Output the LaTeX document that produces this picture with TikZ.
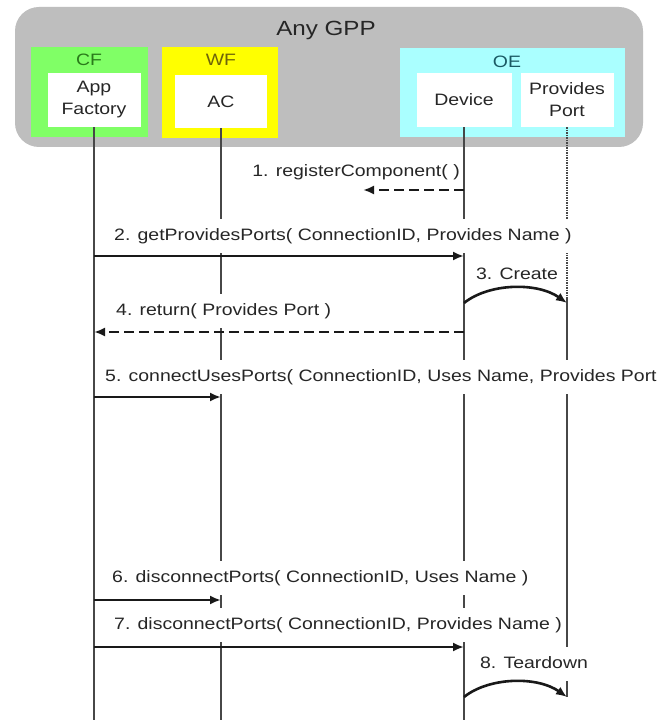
\documentclass[tikz,border=0pt]{standalone}
\usepackage{fontspec}
\setmainfont{Liberation Sans}[FakeStretch=1.18]
\usetikzlibrary{arrows.meta}

\definecolor{gppgray}{HTML}{BEBEBE}
\definecolor{cfgreen}{HTML}{80FF66}
\definecolor{wfyellow}{HTML}{FFFF00}
\definecolor{oecyan}{HTML}{AAFFFF}
\definecolor{cfdark}{HTML}{2A7A1A}
\definecolor{wfdark}{HTML}{6E640A}
\definecolor{oedark}{HTML}{1A5A64}
\definecolor{ink}{HTML}{262626}

\begin{document}
\begin{tikzpicture}[x=1pt, y=-1pt,
    group/.style={rectangle, inner sep=0pt},
    comp/.style={rectangle, fill=white, inner sep=0pt, align=center, text=ink,
        font=\fontsize{16.5}{22}\selectfont},
    tag/.style={font=\fontsize{16.5}{20}\selectfont},
    life/.style={draw=ink!85, line width=1.5pt},
    msg/.style={draw=black!90, line width=2.6pt, -{Latex[length=11pt,width=9pt]}},
    reply/.style={msg, dash pattern=on 10pt off 5pt},
    lbl/.style={fill=white, text=ink, inner xsep=1pt, inner ysep=0pt,
        text height=12pt, text depth=4pt, minimum height=34pt,
        font=\fontsize{16.5}{20}\selectfont}]

    % Page
    \fill[white] (0,0) rectangle (658,722);
    \clip (0,0) rectangle (658,722);

    % Host and domains
    \node[group, fill=gppgray, rounded corners=24pt, minimum width=628pt, minimum height=140pt] (gpp) at (329,77) {};
    \node[text=ink, font=\fontsize{20.5}{24}\selectfont] (gpptitle) at (326,30) {Any GPP};
    \node[group, fill=cfgreen, minimum width=117pt, minimum height=90pt] (cf) at (89.5,92) {};
    \node[group, fill=wfyellow, minimum width=116pt, minimum height=91pt] (wf) at (220,92.5) {};
    \node[group, fill=oecyan, minimum width=225pt, minimum height=89pt] (oe) at (512.5,92.5) {};
    \node[tag, text=cfdark] (cftag) at (89,60) {CF};
    \node[tag, text=wfdark] (wftag) at (221,60) {WF};
    \node[tag, text=oedark] (oetag) at (507,62) {OE};

    % Components
    \node[comp, minimum width=93pt, minimum height=54pt] (af) at (94,100) {App\\Factory};
    \node[comp, minimum width=92pt, minimum height=53pt] (ac) at (221,101.5) {AC};
    \node[comp, minimum width=95pt, minimum height=54pt] (dev) at (464,100) {Device};
    \node[comp, minimum width=93pt, minimum height=54pt] (pp) at (567,100) {Provides\\Port};

    % Message rows
    \coordinate (m1) at (0,190);
    \coordinate (m2) at (0,256);
    \coordinate (m3) at (0,303);
    \coordinate (m4) at (0,332);
    \coordinate (m5) at (0,397);
    \coordinate (m6) at (0,600);
    \coordinate (m7) at (0,647);
    \coordinate (m8) at (0,697);
    \coordinate (made) at (0,297);
    \coordinate (bottom) at (0,720);
    \coordinate (r1) at (363,190);

    % Lifelines
    \draw[life] (af.south) -- (af.south |- bottom);
    \draw[life] (ac.south) -- (ac.south |- bottom);
    \draw[life] (dev.south) -- (dev.south |- bottom);
    \draw[life, densely dotted] (pp.south) -- (pp.south |- made);
    \draw[life] (pp.south |- made) -- (pp.south |- m8);

    % Labels
    \node[lbl, anchor=east] (l1) at (461,173) {1. registerComponent( )};
    \node[lbl, anchor=west] (l2) at (113,236) {2. getProvidesPorts( ConnectionID, Provides Name )};
    \node[lbl] (l3) at (517,275) {3. Create};
    \node[lbl, anchor=west] (l4) at (115,311) {4. return( Provides Port )};
    \node[lbl, anchor=west] (l5) at (104,377) {5. connectUsesPorts( ConnectionID, Uses Name, Provides Port )};
    \node[lbl, anchor=west] (l6) at (111,578) {6. disconnectPorts( ConnectionID, Uses Name )};
    \node[lbl, anchor=west] (l7) at (113,625) {7. disconnectPorts( ConnectionID, Provides Name )};
    \node[lbl] (l8) at (534,664) {8. Teardown};

    % Messages
    \draw[reply] (dev |- m1) -- (r1);
    \draw[msg] (af |- m2) -- (dev |- m2);
    \draw[msg] (dev |- m3) .. controls +(25,-20) and +(-30,-21) .. (pp |- m3);
    \draw[reply] (dev |- m4) -- (af |- m4);
    \draw[msg] (af |- m5) -- (ac |- m5);
    \draw[msg] (af |- m6) -- (ac |- m6);
    \draw[msg] (af |- m7) -- (dev |- m7);
    \draw[msg] (dev |- m8) .. controls +(25,-20) and +(-30,-21) .. (pp |- m8);

\end{tikzpicture}
\end{document}
